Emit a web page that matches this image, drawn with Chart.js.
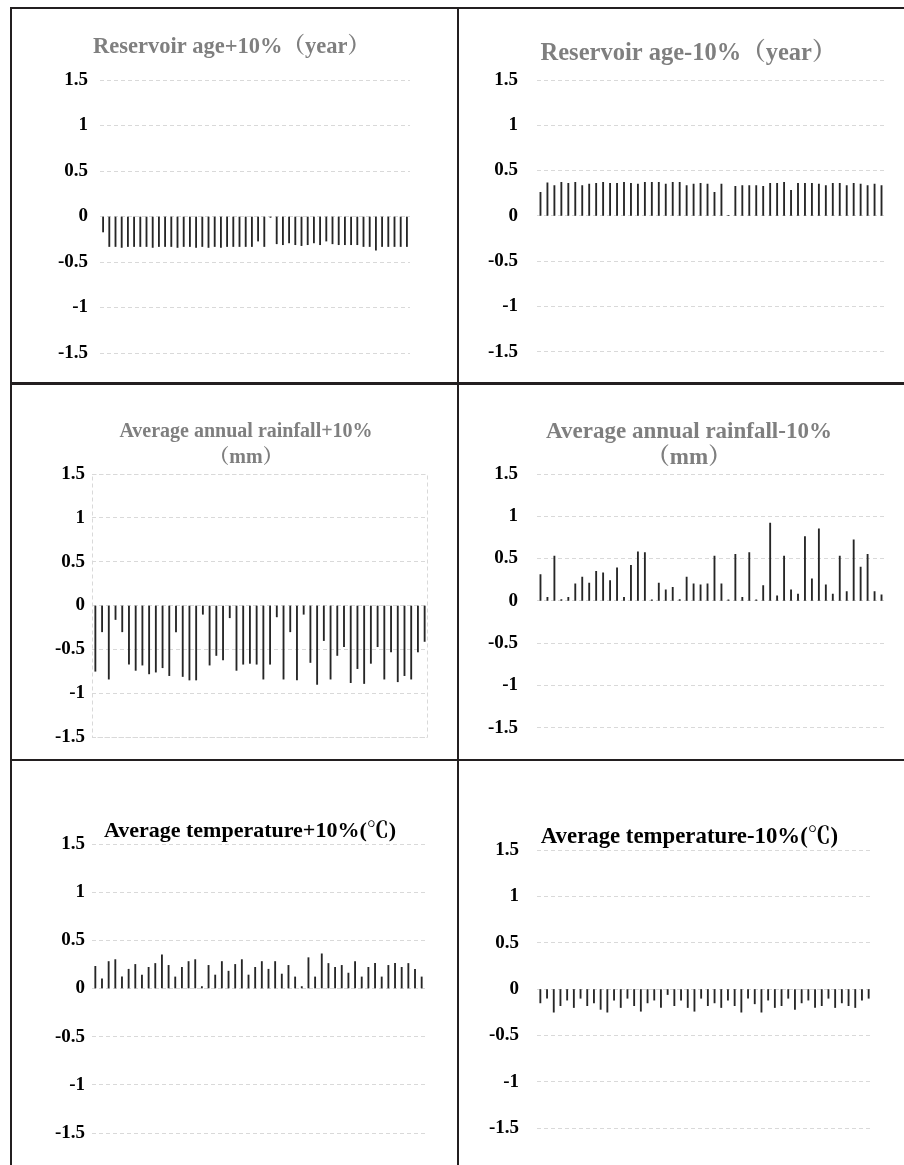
<!DOCTYPE html>
<html>
<head>
<meta charset="utf-8">
<title>Sensitivity of sediment indicators</title>
<script src="https://cdn.jsdelivr.net/npm/chart.js@4.4.1/dist/chart.umd.min.js"></script>
<style>
  html, body { margin: 0; padding: 0; background: #fff; }
  #sheet { position: relative; width: 904px; height: 1165px; overflow: hidden; background: #fff; }
  #sheet canvas { position: absolute; }
  .rule { position: absolute; background: #231f20; z-index: 2; }
</style>
</head>
<body>
<div id="sheet">
  <canvas id="p1" width="397" height="372" style="left:13px;top:10px"></canvas>
  <canvas id="p2" width="423" height="372" style="left:462px;top:10px"></canvas>
  <canvas id="p3" width="415" height="372" style="left:13px;top:386px"></canvas>
  <canvas id="p4" width="423" height="372" style="left:462px;top:386px"></canvas>
  <canvas id="p5" width="412" height="403" style="left:13px;top:762px"></canvas>
  <canvas id="p6" width="410" height="403" style="left:462px;top:762px"></canvas>

  <!-- table rules -->
  <div class="rule" style="left:11px;top:7px;width:893px;height:2px"></div>
  <div class="rule" style="left:10px;top:7px;width:2px;height:1158px"></div>
  <div class="rule" style="left:457px;top:7px;width:2px;height:1158px"></div>
  <div class="rule" style="left:10px;top:382px;width:894px;height:3px"></div>
  <div class="rule" style="left:10px;top:759px;width:894px;height:2px"></div>
</div>

<script>
// sample points (one bar each)
const samples = Array.from({ length: 50 }, (_, i) => String(i + 1));

// y-axis tick labels, bottom to top
const tickLabels = ['-1.5', '-1', '-0.5', '0', '0.5', '1', '1.5'];

// panel titles
const titleAgeUp = 'Reservoir age+10%（year）';
const titleAgeDown = 'Reservoir age-10%（year）';
const titleRainUp = ['Average annual rainfall+10%', '（mm）'];
const titleRainDown = ['Average annual rainfall-10%', '（mm）'];
const titleTempUp = 'Average temperature+10%(℃)';
const titleTempDown = 'Average temperature-10%(℃)';

// change in output per sample
const ageUp = [
  -0.17, -0.33, -0.33, -0.34, -0.33, -0.33, -0.33, -0.33, -0.34, -0.33,
  -0.33, -0.33, -0.34, -0.33, -0.33, -0.34, -0.33, -0.34, -0.33, -0.34,
  -0.33, -0.33, -0.33, -0.33, -0.33, -0.27, -0.33, -0.01, -0.30, -0.31,
  -0.29, -0.31, -0.32, -0.31, -0.29, -0.31, -0.27, -0.30, -0.31, -0.31,
  -0.31, -0.31, -0.33, -0.33, -0.37, -0.33, -0.33, -0.33, -0.33, -0.33
];
const ageDown = [
  0.26, 0.365, 0.335, 0.37, 0.36, 0.37, 0.335, 0.35, 0.36, 0.37,
  0.36, 0.36, 0.37, 0.36, 0.35, 0.37, 0.37, 0.37, 0.35, 0.37,
  0.37, 0.335, 0.35, 0.36, 0.35, 0.26, 0.35, 0.005, 0.325, 0.335,
  0.335, 0.335, 0.325, 0.36, 0.36, 0.37, 0.28, 0.36, 0.36, 0.36,
  0.35, 0.335, 0.36, 0.36, 0.335, 0.36, 0.35, 0.335, 0.35, 0.335
];
const rainUp = [
  -0.75, -0.30, -0.84, -0.16, -0.30, -0.67, -0.74, -0.68, -0.78, -0.76,
  -0.71, -0.80, -0.30, -0.81, -0.85, -0.85, -0.10, -0.68, -0.57, -0.62,
  -0.14, -0.74, -0.67, -0.66, -0.67, -0.84, -0.67, -0.13, -0.84, -0.30,
  -0.85, -0.10, -0.65, -0.90, -0.40, -0.84, -0.57, -0.47, -0.88, -0.72,
  -0.89, -0.66, -0.47, -0.84, -0.53, -0.87, -0.80, -0.84, -0.53, -0.41
];
const rainDown = [
  0.31, 0.04, 0.53, 0.015, 0.04, 0.20, 0.28, 0.21, 0.35, 0.33,
  0.24, 0.39, 0.04, 0.42, 0.58, 0.57, 0.01, 0.21, 0.13, 0.16,
  0.015, 0.28, 0.20, 0.19, 0.20, 0.53, 0.20, 0.01, 0.55, 0.04,
  0.57, 0.01, 0.18, 0.92, 0.06, 0.53, 0.13, 0.08, 0.76, 0.26,
  0.85, 0.19, 0.08, 0.53, 0.11, 0.72, 0.40, 0.55, 0.11, 0.07
];
const tempUp = [
  0.23, 0.10, 0.28, 0.30, 0.12, 0.20, 0.25, 0.14, 0.22, 0.26,
  0.35, 0.24, 0.12, 0.22, 0.28, 0.30, 0.02, 0.24, 0.14, 0.28,
  0.18, 0.25, 0.30, 0.14, 0.22, 0.28, 0.20, 0.28, 0.15, 0.24,
  0.12, 0.02, 0.32, 0.12, 0.36, 0.26, 0.22, 0.24, 0.16, 0.28,
  0.12, 0.22, 0.26, 0.12, 0.24, 0.26, 0.22, 0.26, 0.20, 0.12
];
const tempDown = [
  -0.15, -0.10, -0.25, -0.18, -0.12, -0.20, -0.10, -0.18, -0.15, -0.22,
  -0.25, -0.12, -0.20, -0.10, -0.18, -0.24, -0.15, -0.12, -0.20, -0.06,
  -0.18, -0.12, -0.20, -0.24, -0.10, -0.18, -0.15, -0.20, -0.12, -0.18,
  -0.25, -0.10, -0.16, -0.25, -0.12, -0.20, -0.18, -0.10, -0.22, -0.15,
  -0.12, -0.20, -0.18, -0.10, -0.20, -0.15, -0.18, -0.20, -0.12, -0.10
];

const SERIF = "'Liberation Serif', 'Times New Roman', 'Noto Serif CJK SC', 'Noto Sans CJK SC', serif";

// dashed box round the plot area
const plotFrame = {
  id: 'plotFrame',
  beforeDatasetsDraw(chart, args, opts) {
    if (!opts.show) return;
    const { left, top, right, bottom } = chart.chartArea;
    const ctx = chart.ctx;
    ctx.save();
    ctx.strokeStyle = '#d9d9d9';
    ctx.lineWidth = 1;
    ctx.setLineDash([4, 3]);
    ctx.strokeRect(Math.round(left) + 0.5, Math.round(top) + 0.5,
                   Math.round(right - left) - 1, Math.round(bottom - top));
    ctx.restore();
  }
};

// re-centre the title block on a chosen x inside the canvas
const titleCentre = {
  id: 'titleCentre',
  afterLayout(chart, args, opts) {
    const tb = chart.titleBlock;
    if (!tb || opts.x == null) return;
    const w = tb.right - tb.left;
    tb.left = opts.x - w / 2;
    tb.right = tb.left + w;
  }
};

function makePanel(id, title, titleColor, values, g) {
  return new Chart(document.getElementById(id), {
    type: 'bar',
    data: {
      labels: samples,
      datasets: [{
        data: values,
        backgroundColor: '#262626',
        borderWidth: 0,
        barThickness: 1.2
      }]
    },
    options: {
      responsive: false,
      animation: false,
      devicePixelRatio: 1,
      layout: { padding: { left: 0, top: 0, right: 0, bottom: g.bottom } },
      plugins: {
        legend: { display: false },
        tooltip: { enabled: false },
        title: {
          display: true,
          text: title,
          color: titleColor,
          font: { family: SERIF, size: g.tSize, weight: 'bold', lineHeight: '26px' },
          padding: { top: g.tTop, bottom: g.tBottom }
        },
        titleCentre: { x: g.tX },
        plotFrame: { show: !!g.frame }
      },
      scales: {
        x: { display: false },
        y: {
          min: -1.5,
          max: 1.5,
          afterFit: s => { s.width = g.axisW; },
          ticks: {
            stepSize: 0.5,
            padding: g.tickPad,
            color: '#000',
            font: { family: SERIF, size: 19, weight: 'bold' },
            callback: (v, i) => tickLabels[i]
          },
          grid: { color: '#d9d9d9', drawTicks: false, tickLength: 0, lineWidth: 1 },
          border: { display: false, dash: [4, 3] }
        }
      }
    },
    plugins: [plotFrame, titleCentre]
  });
}

const GRAY = '#7f7f7f';
const BLACK = '#000000';

makePanel('p1', titleAgeUp, GRAY, ageUp,
  { axisW: 87, bottom: 29, tSize: 22.5, tX: 218.5, tTop: 24, tBottom: 20, tickPad: 12 });
makePanel('p2', titleAgeDown, GRAY, ageDown,
  { axisW: 75, bottom: 25, tSize: 24.5, tX: 226.5, tTop: 31, tBottom: 13, tickPad: 19 });
makePanel('p3', titleRainUp, GRAY, rainUp,
  { axisW: 79, bottom: 21, tSize: 20, tX: 233, tTop: 33, tBottom: 3, tickPad: 7, frame: true });
makePanel('p4', titleRainDown, GRAY, rainDown,
  { axisW: 75, bottom: 25, tSize: 23, tX: 227, tTop: 33, tBottom: 3, tickPad: 19 });
makePanel('p5', titleTempUp, BLACK, tempUp,
  { axisW: 79, bottom: 32, tSize: 22, tX: 237, tTop: 56, tBottom: 0, tickPad: 7 });
makePanel('p6', titleTempDown, BLACK, tempDown,
  { axisW: 75, bottom: 37, tSize: 22.8, tX: 227.5, tTop: 62, tBottom: 0, tickPad: 18 });
</script>
</body>
</html>
